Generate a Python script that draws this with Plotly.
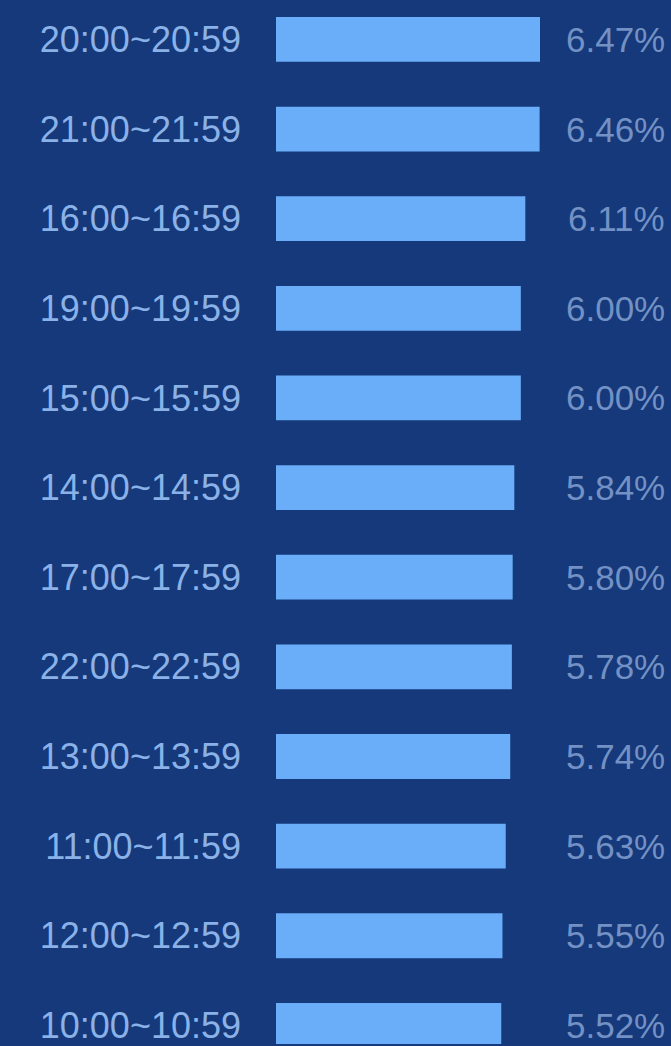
import plotly.graph_objects as go

categories = ["20:00~20:59", "21:00~21:59", "16:00~16:59", "19:00~19:59",
              "15:00~15:59", "14:00~14:59", "17:00~17:59", "22:00~22:59",
              "13:00~13:59", "11:00~11:59", "12:00~12:59", "10:00~10:59"]
values = [6.47, 6.46, 6.11, 6.00, 6.00, 5.84, 5.80, 5.78, 5.74, 5.63, 5.55, 5.52]
value_labels = [f"{v:.2f}%" for v in values]

BG = "#15397a"
BAR = "#6aaefa"
LABEL = "#8ab2e8"
PCT = "#7391c4"

fig = go.Figure()
fig.add_trace(go.Bar(
    x=values, y=categories, orientation="h",
    marker=dict(color=BAR, line=dict(width=0)),
    width=0.5, hoverinfo="skip",
))

for c, t in zip(categories, value_labels):
    fig.add_annotation(x=1, xref="paper", xanchor="right", xshift=-4,
                       y=c, yref="y", text=t, showarrow=False,
                       font=dict(family="Liberation Sans, Arial", size=35, color=PCT))

fig.update_layout(
    width=671, height=1046,
    margin=dict(l=276, r=0, t=0, b=0),
    paper_bgcolor=BG, plot_bgcolor=BG,
    showlegend=False,
    font=dict(family="Liberation Sans, Arial", size=35, color=LABEL),
    xaxis=dict(range=[0, 9.68], visible=False, showgrid=False, zeroline=False),
    yaxis=dict(categoryorder="array", categoryarray=categories,
               range=[11.208, -0.44], showgrid=False, zeroline=False,
               showline=False, ticks="", ticklabelstandoff=34,
               tickfont=dict(family="Liberation Sans, Arial", size=36, color=LABEL)),
)

fig.write_html("out.html", config={"displayModeBar": False},
               post_script="document.body.style.margin='0';document.body.style.overflow='hidden';document.body.style.background='" + BG + "';")
